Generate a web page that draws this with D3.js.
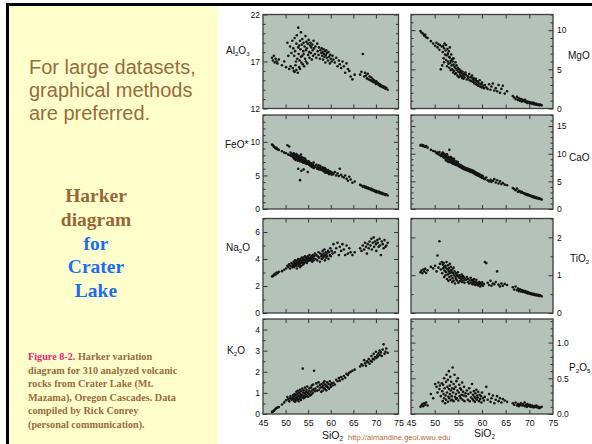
<!DOCTYPE html>
<html><head><meta charset="utf-8">
<script src="https://cdn.jsdelivr.net/npm/d3@7"></script>
<style>body{margin:0;background:#fff}svg{display:block}</style>
</head><body>
<script>
// ---------- DATA (one entry per rock sample) ----------
const sio2 = [
 47.0,47.2,47.4,47.6,47.8,48.0,48.2,48.5,49.2,49.7,
 50.1,50.4,50.6,50.8,51.0,51.1,51.3,51.5,
 51.6,51.7,51.8,51.9,52.0,52.0,52.1,52.2,
 52.3,52.4,52.4,52.5,52.6,52.7,52.8,52.8,52.9,53.0,
 53.0,53.1,53.2,53.2,53.3,53.4,53.4,53.5,53.6,53.7,
 53.7,53.8,53.9,54.0,54.0,54.1,54.2,54.3,54.4,54.5,
 54.5,54.6,54.7,54.8,54.9,55.0,55.1,55.2,55.3,55.4,
 55.5,55.6,55.7,55.8,55.9,56.0,56.1,56.2,56.3,56.5,
 56.6,56.8,57.0,57.1,57.3,57.4,57.6,57.7,57.9,58.0,
 58.1,58.2,58.3,58.4,58.5,58.6,58.7,58.8,58.9,59.0,
 59.1,59.2,59.4,59.5,59.6,59.8,59.9,60.0,60.2,60.4,
 60.6,60.9,61.2,61.5,61.8,62.0,62.3,62.6,
 62.9,63.2,63.5,63.8,64.1,64.4,64.8,65.3,
 66.5,66.8,67.1,67.4,67.6,67.8,68.0,68.2,68.4,68.6,
 68.8,69.0,69.1,69.3,69.5,69.6,69.8,70.0,70.1,70.3,
 70.4,70.6,70.8,70.9,71.1,71.3,71.5,71.7,71.9,72.1,72.3,72.6
];
const al2o3 = [
 17.4,17.1,17.6,16.9,17.3,17.0,16.8,17.2,16.6,17.0,
 16.4,19.0,17.6,16.2,18.6,16.5,17.9,19.2,
 16.3,18.4,16.0,17.6,19.5,15.9,18.1,16.6,
 17.0,18.9,16.1,19.8,17.3,15.8,18.5,20.6,17.8,16.4,
 18.7,17.1,19.2,16.2,18.3,17.5,20.1,16.9,18.8,17.6,
 19.4,16.7,18.1,17.8,19.0,16.5,18.6,17.3,19.7,18.2,
 17.0,19.1,18.4,16.8,18.9,17.7,19.3,18.0,17.4,18.7,
 19.0,17.9,18.5,17.2,18.8,18.2,17.6,19.2,18.4,17.8,
 18.6,17.4,18.9,18.1,17.7,18.5,17.3,18.2,17.9,18.4,
 17.6,18.0,17.2,18.3,17.8,17.5,18.1,16.9,17.7,18.2,
 17.4,17.9,17.1,18.0,17.5,16.8,17.7,17.3,17.0,17.6,
 17.2,16.9,17.4,16.5,17.1,16.7,16.3,17.0,
 16.5,15.8,16.8,16.2,16.0,15.4,15.1,15.6,
 15.6,15.9,17.8,15.4,15.8,15.5,15.2,15.7,15.1,15.4,
 15.0,15.3,14.9,15.1,14.8,15.0,14.8,14.6,14.9,14.7,
 14.7,14.5,14.6,14.4,14.5,14.3,14.4,14.2,14.3,14.1,14.2,14.0
];
const mgo = [
 9.9,9.7,9.6,9.5,9.3,9.4,9.1,9.0,8.6,8.3,
 8.0,8.4,7.8,8.2,7.5,8.1,5.0,7.9,
 5.5,7.2,8.0,6.4,7.7,5.9,8.3,6.9,
 7.4,6.2,8.1,6.8,5.4,7.6,6.0,7.0,5.7,6.6,
 7.3,5.2,6.5,7.8,5.8,6.1,4.9,6.9,5.5,6.3,
 5.0,6.0,4.6,5.6,6.4,4.8,5.3,4.4,5.9,5.1,
 4.5,5.5,4.9,4.2,5.2,4.7,4.0,5.0,4.6,4.3,
 4.8,4.1,4.5,3.9,4.7,4.2,3.8,4.4,4.0,4.6,
 4.3,3.7,4.1,3.9,4.4,3.6,4.0,3.5,4.2,3.8,
 3.4,3.9,3.6,3.2,3.7,3.3,3.8,3.1,3.5,3.0,
 3.4,2.9,3.2,3.6,2.8,3.1,2.7,3.3,2.9,2.6,
 3.0,2.7,2.5,3.1,2.4,2.8,3.2,2.3,
 2.6,2.2,3.0,2.0,2.5,2.9,1.9,2.2,
 1.6,1.4,1.2,1.5,1.1,1.3,1.0,1.2,0.9,1.1,
 1.0,0.9,1.1,0.8,0.9,0.7,0.85,0.8,0.65,0.75,
 0.7,0.6,0.75,0.55,0.65,0.5,0.6,0.45,0.55,0.4,0.5,0.4
];
const feo = [
 9.6,9.5,9.3,9.2,9.0,9.1,8.9,8.8,8.6,8.4,
 8.3,9.5,8.1,9.3,8.0,8.4,7.9,8.2,
 8.0,7.7,8.3,7.5,7.9,8.1,7.6,7.3,
 7.8,8.2,7.4,7.7,8.0,7.2,7.6,6.0,7.9,7.3,
 7.5,7.8,4.3,7.1,7.6,8.1,7.3,5.7,7.7,7.0,
 7.4,7.2,6.9,7.6,5.9,7.3,7.0,7.5,6.8,7.1,
 6.9,7.2,6.7,7.0,5.5,6.8,7.1,6.6,6.9,6.5,
 6.7,6.4,6.8,6.3,6.6,6.2,6.5,6.9,6.1,6.4,
 6.3,6.6,6.0,6.2,6.5,5.9,6.1,6.4,5.8,6.0,
 5.9,6.2,5.7,6.0,5.6,5.8,6.1,5.4,5.9,5.5,
 5.7,5.4,5.8,5.5,5.2,5.6,5.3,5.5,5.1,5.4,
 5.2,5.5,5.0,5.3,4.9,6.0,5.1,4.8,
 4.7,5.0,4.5,4.2,4.8,4.4,3.9,4.1,
 3.6,3.5,3.3,3.4,3.2,3.3,3.1,3.2,3.0,3.1,
 2.9,3.0,2.8,2.9,2.7,2.8,2.6,2.7,2.5,2.6,
 2.5,2.6,2.4,2.5,2.3,2.4,2.2,2.3,2.2,2.1,2.2,2.0
];
const cao = [
 11.5,11.6,11.4,11.5,11.3,11.2,11.4,11.1,10.7,10.5,
 10.4,10.1,10.2,9.9,10.3,9.8,9.6,10.0,
 9.7,10.2,9.4,9.9,9.3,10.0,9.5,9.8,
 9.1,9.6,8.8,9.4,9.9,8.7,9.2,9.5,8.5,9.0,
 9.3,10.7,8.6,9.1,8.9,9.4,8.4,8.8,9.2,8.3,
 8.7,9.0,8.2,8.8,8.5,9.1,8.1,8.6,8.0,8.4,
 8.3,8.6,7.9,8.2,8.5,7.8,8.1,7.7,8.0,7.6,
 7.9,7.5,7.8,7.4,7.7,7.3,7.6,7.2,7.5,7.1,
 7.4,7.0,7.3,6.9,7.2,6.8,7.1,6.7,7.0,6.6,
 6.9,6.5,6.8,6.4,6.7,6.3,6.6,6.2,6.5,6.1,
 6.4,6.0,6.3,5.9,6.2,5.8,6.1,5.6,5.9,5.5,
 5.4,5.7,5.2,5.0,5.3,4.9,5.1,5.4,
 4.8,5.2,4.6,5.0,4.5,4.7,4.4,4.3,
 3.8,3.6,3.4,3.7,3.1,3.3,3.2,3.0,3.1,2.9,
 2.9,2.7,2.8,2.6,2.7,2.5,2.6,2.4,2.5,2.3,
 2.4,2.2,2.3,2.1,2.2,2.0,2.1,1.9,2.0,1.8,1.9,1.7
];
const na2o = [
 2.7,2.75,2.8,2.9,2.85,3.0,2.95,3.05,3.1,3.2,
 3.3,3.5,3.4,3.6,3.3,3.5,3.7,3.4,
 3.6,3.5,3.8,3.4,3.7,3.55,3.9,3.6,
 3.5,3.8,3.6,3.3,3.9,3.7,3.5,4.0,3.6,3.75,
 3.9,3.6,3.8,3.4,4.0,3.7,3.85,3.5,4.1,3.75,
 3.8,4.0,3.6,3.9,4.1,3.7,3.95,4.2,3.8,4.0,
 3.9,4.1,3.7,4.0,4.2,3.85,4.05,3.9,4.3,4.0,
 4.1,3.9,4.2,4.0,3.8,4.3,4.1,3.9,4.2,4.4,
 4.0,4.3,3.9,4.2,4.5,4.1,3.8,4.4,4.2,4.0,
 4.3,4.6,4.1,4.4,4.2,4.7,3.9,4.3,4.5,4.1,
 4.4,4.2,4.6,4.0,4.5,4.3,4.8,4.2,4.6,4.4,
 5.1,4.5,4.8,5.2,4.3,4.9,4.6,5.1,
 4.7,4.3,5.0,4.4,4.8,4.5,4.3,4.5,
 4.8,4.6,5.0,4.7,5.2,4.9,4.4,5.1,4.8,5.3,
 5.0,5.5,4.7,5.2,5.6,4.9,5.3,5.1,4.6,5.4,
 5.2,4.9,5.5,5.0,4.3,5.3,5.1,4.8,5.4,4.9,5.0,5.2
];
const tio2 = [
 1.08,1.12,1.05,1.15,1.10,1.17,1.06,1.13,1.22,1.18,
 1.25,1.10,1.52,1.20,1.90,1.30,1.15,1.35,
 1.05,1.28,1.18,1.32,0.95,1.22,1.12,1.25,
 1.00,1.20,1.08,1.35,0.90,1.15,1.02,1.26,0.85,1.10,
 1.18,0.95,1.30,1.05,0.88,1.12,1.22,0.98,1.08,0.82,
 1.15,0.92,1.05,1.20,0.85,1.00,1.10,0.78,0.95,1.05,
 0.90,1.02,0.86,0.98,1.08,0.80,0.94,1.00,0.84,0.92,
 0.96,0.88,1.02,0.82,0.92,0.98,0.86,0.94,0.80,0.90,
 0.88,0.95,0.82,0.90,0.78,0.86,0.93,0.80,0.87,0.76,
 0.84,0.79,0.90,0.76,0.83,0.74,0.81,0.88,0.75,0.80,
 0.78,0.73,0.82,0.76,0.70,0.79,0.74,0.81,0.72,0.77,
 1.35,1.32,0.80,0.74,0.85,0.72,0.78,0.76,
 0.82,1.10,0.75,0.70,0.78,0.72,0.77,0.74,
 0.68,0.62,0.70,0.60,0.65,0.58,0.63,0.57,0.61,0.56,
 0.59,0.55,0.58,0.54,0.56,0.52,0.55,0.51,0.53,0.50,
 0.52,0.49,0.51,0.48,0.50,0.47,0.49,0.46,0.48,0.45,0.47,0.44
];
const k2o = [
 0.10,0.12,0.15,0.20,0.25,0.28,0.30,0.33,0.45,0.55,
 0.65,0.80,0.70,0.60,0.75,0.85,0.68,0.78,
 0.72,0.90,0.62,0.82,0.95,0.70,0.58,0.88,
 0.75,1.05,0.65,0.92,0.80,1.10,0.70,0.98,0.60,0.85,
 1.00,0.72,1.15,0.82,0.95,0.66,1.08,0.88,0.78,1.20,
 0.90,2.15,1.02,0.75,1.12,0.85,0.98,1.25,0.80,1.05,
 0.92,1.15,0.86,1.30,1.00,0.82,1.10,0.95,1.22,0.88,
 1.05,1.25,0.92,1.35,1.12,1.00,1.40,1.18,2.05,1.08,
 1.20,1.45,1.10,1.30,1.50,1.15,1.38,1.25,1.05,1.42,
 1.28,1.10,1.35,1.48,1.22,1.55,1.18,1.40,1.30,1.12,
 1.32,1.50,1.25,1.42,1.20,1.55,1.38,1.28,1.45,1.35,
 1.48,1.40,1.62,1.55,1.70,1.58,1.75,1.65,
 1.80,1.72,1.90,1.85,1.95,2.00,2.05,2.10,
 2.25,2.35,2.30,2.55,2.40,2.28,2.50,2.45,2.60,2.38,
 2.52,2.75,2.48,2.62,2.85,2.58,2.70,2.95,2.65,2.78,
 2.72,2.88,3.00,2.80,2.92,2.75,3.05,3.30,2.85,2.95,3.10,2.90
];
const p2o5 = [
 0.10,0.12,0.14,0.11,0.15,0.13,0.16,0.12,0.28,0.22,
 0.42,0.38,0.30,0.44,0.35,0.40,0.25,0.43,
 0.32,0.18,0.41,0.28,0.50,0.22,0.36,0.15,
 0.26,0.45,0.20,0.55,0.30,0.38,0.17,0.48,0.24,0.35,
 0.60,0.22,0.40,0.28,0.52,0.19,0.33,0.45,0.25,0.36,
 0.20,0.65,0.30,0.42,0.18,0.35,0.55,0.24,0.38,0.21,
 0.28,0.46,0.22,0.33,0.50,0.19,0.30,0.41,0.25,0.36,
 0.22,0.34,0.27,0.44,0.20,0.31,0.26,0.38,0.18,0.29,
 0.25,0.33,0.20,0.28,0.36,0.18,0.30,0.23,0.42,0.21,
 0.27,0.19,0.32,0.24,0.17,0.29,0.22,0.34,0.20,0.26,
 0.23,0.31,0.18,0.27,0.21,0.25,0.16,0.30,0.22,0.19,
 0.24,0.38,0.20,0.28,0.17,0.22,0.26,0.15,
 0.20,0.25,0.18,0.22,0.16,0.21,0.19,0.17,
 0.15,0.13,0.16,0.12,0.14,0.11,0.13,0.15,0.12,0.14,
 0.12,0.16,0.11,0.13,0.10,0.14,0.12,0.11,0.13,0.10,
 0.11,0.12,0.10,0.09,0.11,0.10,0.12,0.09,0.10,0.08,0.09,0.10
];
const xTickLabels = [45, 50, 55, 60, 65, 70, 75];
const xInnerTicks = [50, 55, 60, 65, 70];

// ---------- LAYOUT ----------
const W = 592, H = 444;
const cols = [{x0: 263, x1: 398.5}, {x0: 411, x1: 553}];
const rows = [{y0: 14.5, y1: 108.5}, {y0: 115, y1: 209}, {y0: 218.5, y1: 313}, {y0: 319, y1: 414}];
const SANS = "'Liberation Sans', Arial, Helvetica, sans-serif";
const SERIF = "'Liberation Serif', 'Times New Roman', serif";

const panels = [
  {vals: al2o3, col: 0, row: 0, domain: [12, 22], major: [12, 17, 22], step: 1, fmt: d3.format("d"),
   label: [["Al"], ["2", 1], ["O"], ["3", 1]], lx: 226, ly: 54},
  {vals: mgo, col: 1, row: 0, domain: [0, 12], major: [0, 5, 10], step: 1, fmt: d3.format("d"),
   label: [["MgO"]], lx: 568, ly: 59},
  {vals: feo, col: 0, row: 1, domain: [0, 14], major: [0, 5, 10], step: 1, fmt: d3.format("d"),
   label: [["FeO*"]], lx: 225, ly: 148},
  {vals: cao, col: 1, row: 1, domain: [0, 17], major: [0, 5, 10, 15], step: 1, fmt: d3.format("d"),
   label: [["CaO"]], lx: 569, ly: 161},
  {vals: na2o, col: 0, row: 2, domain: [0, 7], major: [0, 2, 4, 6], step: 1, fmt: d3.format("d"),
   label: [["Na"], ["2", 1], ["O"]], lx: 226, ly: 251},
  {vals: tio2, col: 1, row: 2, domain: [0, 2.5], major: [0, 1, 2], step: 0.5, fmt: d3.format("d"),
   label: [["TiO"], ["2", 1]], lx: 570, ly: 262},
  {vals: k2o, col: 0, row: 3, domain: [0, 4.5], major: [0, 1, 2, 3, 4], step: 0.5, fmt: d3.format("d"),
   label: [["K"], ["2", 1], ["O"]], lx: 227, ly: 354},
  {vals: p2o5, col: 1, row: 3, domain: [0, 1.33], major: [0, 0.5, 1.0], step: 0.1, fmt: d3.format(".1f"),
   label: [["P"], ["2", 1], ["O"], ["5", 1]], lx: 569, ly: 371}
];

const svg = d3.select("body").append("svg").attr("width", W).attr("height", H);
svg.append("rect").attr("width", W).attr("height", H).attr("fill", "#ffffff");

// left slide panel
svg.append("rect").attr("x", 9).attr("y", 6).attr("width", 209).attr("height", H - 6).attr("fill", "#ffffcc");
svg.append("line").attr("x1", 7.5).attr("x2", 7.5).attr("y1", 3).attr("y2", H).attr("stroke", "#000").attr("stroke-width", 3);
svg.append("line").attr("x1", 6).attr("x2", W).attr("y1", 4.5).attr("y2", 4.5).attr("stroke", "#000").attr("stroke-width", 3);

const intro = ["For large datasets,", "graphical methods", "are preferred."];
svg.append("g").selectAll("text").data(intro).join("text")
  .attr("x", 29).attr("y", (d, i) => 74 + i * 23)
  .attr("font-family", SANS).attr("font-size", 20).attr("fill", "#9c6a3c").text(d => d);

const title = [["Harker", "#9c6536"], ["diagram", "#9c6536"], ["for", "#1a6cff"], ["Crater", "#1a6cff"], ["Lake", "#1a6cff"]];
svg.append("g").selectAll("text").data(title).join("text")
  .attr("x", 96).attr("y", (d, i) => 202 + i * 23.8).attr("text-anchor", "middle")
  .attr("font-family", SERIF).attr("font-weight", "bold").attr("font-size", 19.5)
  .attr("fill", d => d[1]).text(d => d[0]);

const caption = [
  [["Figure 8-2.", "#ff1a6e"], [" Harker variation", "#9c6a3c"]],
  [["diagram for 310 analyzed volcanic", "#9c6a3c"]],
  [["rocks from Crater Lake (Mt.", "#9c6a3c"]],
  [["Mazama), Oregon Cascades. Data", "#9c6a3c"]],
  [["compiled by Rick Conrey", "#9c6a3c"]],
  [["(personal communication).", "#9c6a3c"]]
];
const capG = svg.append("g");
caption.forEach((line, i) => {
  const t = capG.append("text").attr("x", 28).attr("y", 360 + i * 13.55)
    .attr("font-family", SERIF).attr("font-weight", "bold").attr("font-size", 10.2);
  line.forEach(s => t.append("tspan").attr("fill", s[1]).text(s[0]));
});

// ---------- PANELS ----------
function addLabel(g, parts, x, y, size) {
  const t = g.append("text").attr("x", x).attr("y", y).attr("font-family", SANS)
    .attr("font-size", size).attr("fill", "#111");
  let sub = false;
  parts.forEach(p => {
    const isSub = !!p[1];
    const ts = t.append("tspan").text(p[0]);
    if (isSub) ts.attr("font-size", size * 0.62);
    if (isSub !== sub) ts.attr("dy", isSub ? 2.4 : -2.4);
    sub = isSub;
  });
}

panels.forEach(p => {
  const c = cols[p.col], r = rows[p.row];
  const x = d3.scaleLinear().domain([45, 75]).range([c.x0, c.x1]);
  const y = d3.scaleLinear().domain(p.domain).range([r.y1, r.y0]);
  const g = svg.append("g");
  g.append("rect").attr("x", c.x0).attr("y", r.y0).attr("width", c.x1 - c.x0).attr("height", r.y1 - r.y0)
    .attr("fill", "#b5c2b9");

  const minor = d3.range(p.domain[0], p.domain[1] + 1e-9, p.step).map(v => +v.toFixed(3))
    .filter(v => !p.major.includes(v));

  const styleAxis = a => {
    a.select(".domain").remove();
    a.selectAll("line").attr("stroke", "#333").attr("stroke-width", 1);
    a.selectAll("text").attr("font-family", SANS).attr("font-size", 8.5).attr("fill", "#111");
  };
  // y ticks, left and right edges (inward)
  g.append("g").attr("transform", `translate(${c.x0},0)`)
    .call(d3.axisLeft(y).tickValues(minor).tickSize(-2.5).tickFormat("")).call(styleAxis);
  g.append("g").attr("transform", `translate(${c.x1},0)`)
    .call(d3.axisRight(y).tickValues(minor).tickSize(-2.5).tickFormat("")).call(styleAxis);
  const leftMajor = d3.axisLeft(y).tickValues(p.major).tickSize(-4.5).tickPadding(3)
    .tickFormat(p.col === 0 ? p.fmt : "");
  const rightMajor = d3.axisRight(y).tickValues(p.major).tickSize(-4.5).tickPadding(4)
    .tickFormat(p.col === 1 ? p.fmt : "");
  g.append("g").attr("transform", `translate(${c.x0},0)`).call(leftMajor).call(styleAxis);
  g.append("g").attr("transform", `translate(${c.x1},0)`).call(rightMajor).call(styleAxis);

  // x ticks top and bottom (inward)
  g.append("g").attr("transform", `translate(0,${r.y0})`)
    .call(d3.axisTop(x).tickValues(xInnerTicks).tickSize(-4).tickFormat("")).call(styleAxis);
  const bottom = d3.axisBottom(x).tickValues(p.row === 3 ? xTickLabels : xInnerTicks).tickSize(-4).tickPadding(6)
    .tickFormat(p.row === 3 ? d3.format("d") : "");
  const bg = g.append("g").attr("transform", `translate(0,${r.y1})`).call(bottom).call(styleAxis);
  bg.selectAll(".tick").filter(d => d === 45 || d === 75).select("line").remove();
  bg.selectAll("text").attr("font-size", 8.8);

  // border
  g.append("rect").attr("x", c.x0).attr("y", r.y0).attr("width", c.x1 - c.x0).attr("height", r.y1 - r.y0)
    .attr("fill", "none").attr("stroke", "#3d3d3d").attr("stroke-width", 1.3);

  // points
  const pts = sio2.map((s, i) => [s, p.vals[i]]).filter(d => d[1] != null && !isNaN(d[1]));
  g.append("g").selectAll("circle").data(pts).join("circle")
    .attr("cx", d => x(d[0])).attr("cy", d => y(d[1])).attr("r", 1.3).attr("fill", "#141414");

  addLabel(svg, p.label, p.lx, p.ly, 10);
});

// x axis titles and credit
addLabel(svg, [["SiO"], ["2", 1]], 322, 439, 10.5);
addLabel(svg, [["SiO"], ["2", 1]], 474, 437, 10.5);
svg.append("text").attr("x", 348).attr("y", 440).attr("font-family", SANS).attr("font-size", 7.6)
  .attr("fill", "#c0692b").text("http://almandine.geol.wwu.edu");
</script>
</body></html>
